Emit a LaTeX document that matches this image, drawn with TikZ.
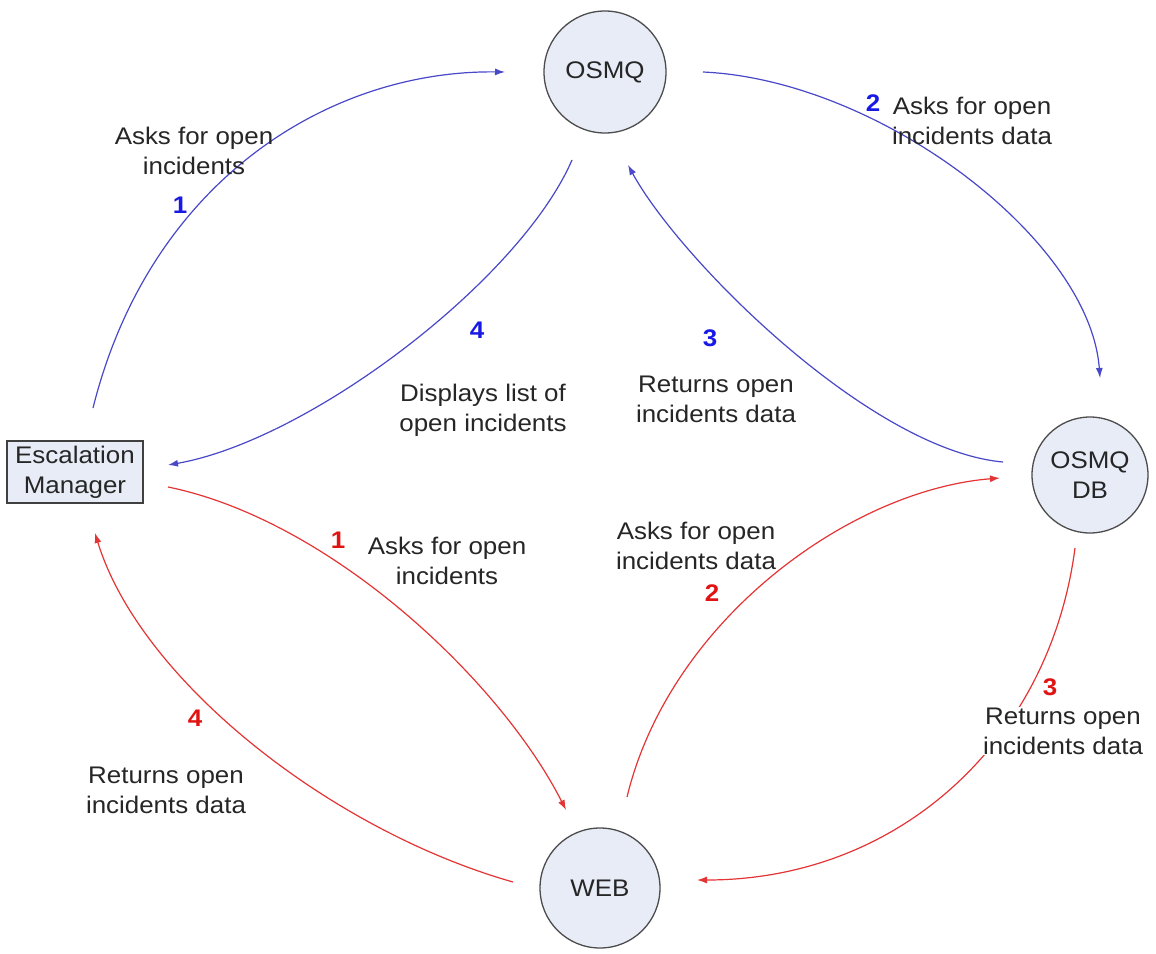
\documentclass[tikz,border=0pt]{standalone}
\usepackage{fontspec}
\setmainfont{Liberation Sans}[FakeStretch=1.08]
\usetikzlibrary{arrows.meta,calc}
\definecolor{nodefill}{RGB}{232,236,246}
\definecolor{flowblue}{RGB}{72,72,200}
\definecolor{numblue}{RGB}{25,25,230}
\definecolor{flowred}{RGB}{228,52,52}
\definecolor{numred}{RGB}{225,20,20}
\definecolor{txt}{RGB}{38,38,38}
\begin{document}
\begin{tikzpicture}[x=1pt,y=-1pt,
  proc/.style={circle,draw=black!70,line width=1.3pt,fill=nodefill,inner sep=0pt,
    align=center,font=\fontsize{24}{30}\selectfont,text=txt},
  actor/.style={rectangle,draw=black!75,line width=1.3pt,fill=nodefill,inner sep=0pt,
    minimum width=136pt,minimum height=62pt,align=center,font=\fontsize{24}{30}\selectfont,text=txt},
  lbl/.style={align=center,inner sep=0pt,font=\fontsize{24}{30}\selectfont,text=txt},
  lblbg/.style={lbl,fill=white,inner sep=1pt},
  bnum/.style={inner sep=0pt,font=\fontsize{24}{30}\selectfont\bfseries,text=numblue},
  rnum/.style={inner sep=0pt,font=\fontsize{24}{30}\selectfont\bfseries,text=numred},
  bflow/.style={draw=flowblue,line width=1.2pt,-{Latex[length=10pt,width=7pt]}},
  rflow/.style={draw=flowred,line width=1.2pt,-{Latex[length=10pt,width=7pt]}}]
\fill[white] (0,0) rectangle (1156,953);
\useasboundingbox (0,0) rectangle (1156,953);

% participants
\node[proc,minimum size=122pt] (osmq) at (605,72) {OSMQ};
\node[proc,minimum size=116pt] (db) at (1090,475) {OSMQ\\DB};
\node[proc,minimum size=120pt] (web) at (600,888) {WEB};
\node[actor] (em) at (75,472) {Escalation\\Manager};

% blue flow: request through OSMQ
\draw[bflow] ($(em)+(18,-64)$) .. controls (150,180) and (330,70) .. ($(osmq)+(-100,0)$);
\draw[bflow] ($(osmq)+(98,0)$) .. controls (880,80) and (1090,240) .. ($(db)+(10,-97)$);
\draw[bflow] ($(db)+(-87,-13)$) .. controls (870,450) and (680,260) .. ($(osmq)+(23,93)$);
\draw[bflow] ($(osmq)+(-33,88)$) .. controls (520,280) and (310,440) .. ($(em)+(93,-7)$);

% red flow: request through WEB
\draw[rflow] ($(em)+(93,15)$) .. controls (330,520) and (500,680) .. ($(web)+(-34,-78)$);
\draw[rflow] ($(web)+(27,-91)$) .. controls (670,620) and (850,490) .. ($(db)+(-90,3)$);
\draw[rflow] ($(db)+(-15,73)$) .. controls (1050,740) and (900,880) .. ($(web)+(97,-8)$);
\draw[rflow] ($(web)+(-87,-6)$) .. controls (330,830) and (140,680) .. ($(em)+(20,61)$);

% blue labels
\node[lbl] (tb1) at (194,151) {Asks for open\\incidents};
\node[bnum] (nb1) at (180,205) {1};
\node[bnum] (nb2) at (873,103) {2};
\node[lbl] (tb2) at (972,121) {Asks for open\\incidents data};
\node[bnum] (nb3) at (710,338) {3};
\node[lbl] (tb3) at (716,399) {Returns open\\incidents data};
\node[bnum] (nb4) at (477,330) {4};
\node[lbl] (tb4) at (483,410) {Displays list of\\open incidents};

% red labels
\node[rnum] (nr1) at (338,540) {1};
\node[lbl] (tr1) at (447,561) {Asks for open\\incidents};
\node[lbl] (tr2) at (696,546) {Asks for open\\incidents data};
\node[rnum] (nr2) at (712,593) {2};
\node[rnum] (nr3) at (1050,687) {3};
\node[lblbg] (tr3) at (1063,731) {Returns open\\incidents data};
\node[rnum] (nr4) at (195,718) {4};
\node[lbl] (tr4) at (166,790) {Returns open\\incidents data};
\end{tikzpicture}
\end{document}
